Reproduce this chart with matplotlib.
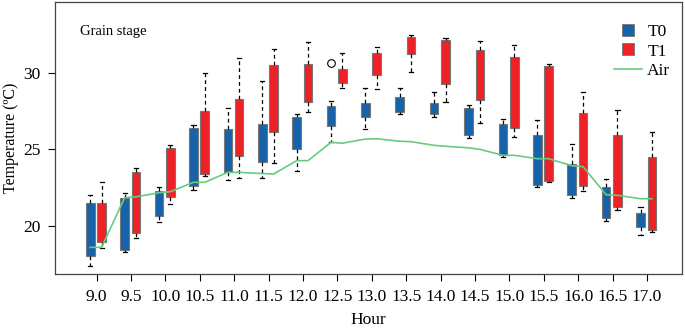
import numpy as np
import matplotlib
matplotlib.use('Agg')
import matplotlib.pyplot as plt
from matplotlib.lines import Line2D

plt.rcParams['font.family'] = ['Liberation Serif', 'DejaVu Serif']

hours = ['9.0', '9.5', '10.0', '10.5', '11.0', '11.5', '12.0', '12.5', '13.0',
         '13.5', '14.0', '14.5', '15.0', '15.5', '16.0', '16.5', '17.0']

# T0 box stats
t0_lo = [17.41, 18.32, 20.24, 22.35, 23.0, 23.11, 23.61, 25.5, 26.33, 27.29, 27.09, 25.72, 24.48, 22.56, 21.85, 20.35, 19.41]
t0_q1 = [18.06, 18.43, 20.67, 22.63, 23.54, 24.17, 25.04, 26.52, 27.13, 27.46, 27.29, 25.94, 24.63, 22.67, 22.0, 20.5, 19.91]
t0_q3 = [21.48, 21.8, 22.28, 26.37, 26.33, 26.65, 27.13, 27.8, 28.0, 28.39, 28.0, 27.68, 26.65, 25.94, 24.02, 22.56, 20.85]
t0_hi = [22.02, 22.13, 22.56, 26.59, 27.7, 29.48, 27.31, 28.17, 28.98, 28.98, 28.74, 27.87, 26.98, 26.91, 25.35, 23.05, 21.26]
t0_out = {7: [30.61]}

# T1 box stats
t1_lo = [18.54, 19.22, 21.43, 23.28, 23.13, 24.13, 27.46, 29.02, 28.92, 30.07, 28.11, 26.7, 25.83, 22.85, 22.28, 21.04, 19.59]
t1_q1 = [18.98, 19.56, 21.89, 23.41, 24.59, 26.15, 28.09, 29.31, 29.85, 31.2, 29.24, 28.22, 26.37, 22.96, 22.63, 21.22, 19.74]
t1_q3 = [21.5, 23.54, 25.07, 27.5, 28.3, 30.5, 30.55, 30.24, 31.27, 32.31, 32.13, 31.48, 31.04, 30.44, 27.39, 25.96, 24.52]
t1_hi = [22.87, 23.8, 25.28, 30.0, 30.98, 31.55, 32.0, 31.27, 31.7, 32.48, 32.24, 32.09, 31.83, 30.57, 28.76, 27.55, 26.15]

# air temperature read at the T0 and T1 positions
air_a = [18.61, 21.85, 22.17, 22.85, 23.5, 23.42, 24.26, 25.46, 25.67, 25.53, 25.26, 25.1, 24.61, 24.39, 23.93, 22.04, 21.78]
air_b = [18.61, 21.9, 22.24, 22.85, 23.5, 23.39, 24.26, 25.4, 25.69, 25.5, 25.2, 25.0, 24.61, 24.39, 23.87, 22.0, 21.78]

blue = '#1763a9'
red = '#ee2127'
green = '#66cc80'
off0 = -0.185
off1 = 0.145
bw = 0.25


def make_stats(lo, q1, q3, hi, out):
    stats = []
    for i in range(len(lo)):
        stats.append({'whislo': lo[i], 'q1': q1[i], 'med': (q1[i] + q3[i]) / 2,
                      'q3': q3[i], 'whishi': hi[i], 'fliers': out.get(i, [])})
    return stats


def draw_boxes(ax, stats, pos, color):
    ax.bxp(stats, positions=pos, widths=bw, patch_artist=True, manage_ticks=False,
           boxprops=dict(facecolor=color, edgecolor='#777777', linewidth=0.8),
           whiskerprops=dict(color='black', linestyle=(0, (3, 2.5)), linewidth=0.9),
           capprops=dict(color='black', linewidth=0.9),
           medianprops=dict(linewidth=0),
           flierprops=dict(marker='o', markerfacecolor='none', markeredgecolor='black',
                           markersize=5.5, markeredgewidth=0.8),
           capwidths=0.12)


fig = plt.figure(figsize=(6.85, 3.29), dpi=100)
ax = fig.add_axes([0.0803, 0.1672, 0.9153, 0.8267])

x = np.arange(len(hours))
draw_boxes(ax, make_stats(t0_lo, t0_q1, t0_q3, t0_hi, t0_out), x + off0, blue)
draw_boxes(ax, make_stats(t1_lo, t1_q1, t1_q3, t1_hi, {}), x + off1, red)

air_x = np.column_stack([x + off0, x + off1]).ravel()
air_y = np.column_stack([air_a, air_b]).ravel()
ax.plot(air_x, air_y, color=green, linewidth=1.2, zorder=5)

ax.set_xlim(-1.21, 17.02)
ax.set_ylim(16.87, 34.61)
ax.set_xticks(x)
ax.set_xticklabels(hours)
ax.set_yticks([20, 25, 30])
ax.tick_params(axis='both', labelsize=12.5, direction='out', length=5, width=0.8)
ax.tick_params(axis='x', pad=6)
ax.tick_params(axis='y', pad=5.5)
for s in ax.spines.values():
    s.set_color('#444444')
    s.set_linewidth(0.9)

ax.set_xlabel('Hour', fontsize=12.5, labelpad=5)
ax.set_ylabel('Temperature (ºC)', fontsize=11.5, labelpad=3)
ax.text(0.04, 0.893, 'Grain stage', transform=ax.transAxes, fontsize=10.5, va='center')

handles = [Line2D([], [], marker='s', linestyle='none', markerfacecolor=blue,
                  markeredgecolor='#777777', markeredgewidth=0.6, markersize=8),
           Line2D([], [], marker='s', linestyle='none', markerfacecolor=red,
                  markeredgecolor='#777777', markeredgewidth=0.6, markersize=8),
           Line2D([], [], color=green, linewidth=1.2)]
ax.legend(handles, ['T0', 'T1', 'Air'], loc='upper left', bbox_to_anchor=(0.892, 0.92),
          frameon=False, fontsize=12.5, handlelength=1.6, borderpad=0, borderaxespad=0,
          labelspacing=0.2, handletextpad=0.3)

fig.savefig('out.png', dpi=100)
